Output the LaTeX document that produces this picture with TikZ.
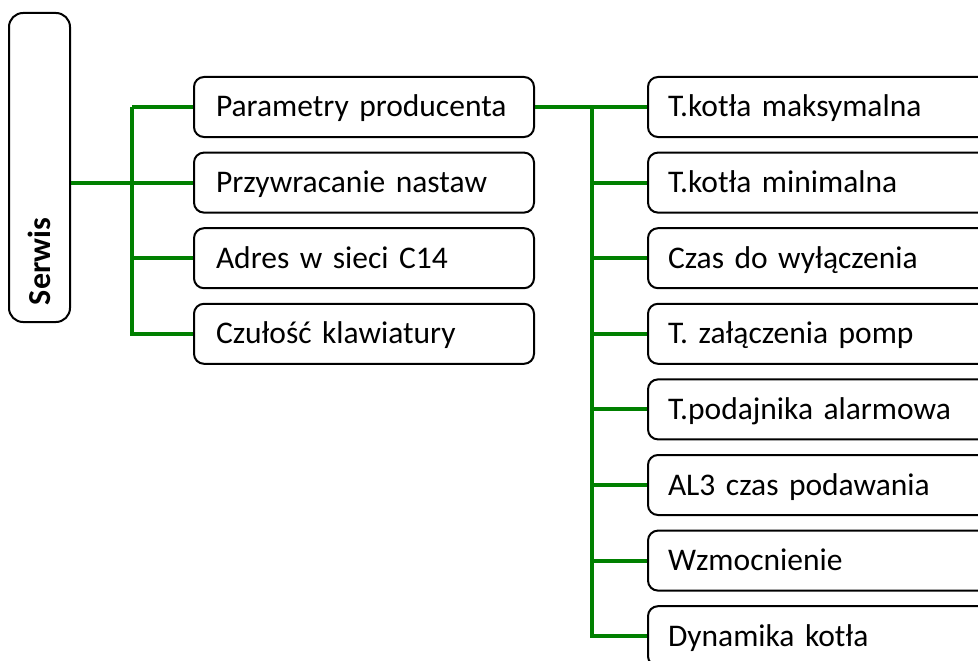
\documentclass[tikz,border=0pt]{standalone}
\usepackage{fontspec}
\setmainfont{Carlito}[WordSpace=0.8]
\definecolor{branch}{RGB}{0,128,0}
\tikzset{
  menubox/.style={draw=black, line width=2pt, rounded corners=10pt, fill=white,
    minimum height=60pt, inner xsep=22pt, text width=296pt, align=left,
    text height=20pt, text depth=0pt,
    font=\fontsize{31.5}{36}\selectfont},
  subbox/.style={menubox, inner xsep=20pt, text width=304pt},
  rootbox/.style={draw=black, line width=2pt, rounded corners=14pt, rotate=90,
    minimum height=61pt, inner xsep=17pt, text width=275pt, align=left,
    font=\fontsize{32}{36}\selectfont\bfseries},
  link/.style={draw=branch, line width=4pt}
}
\begin{document}
\begin{tikzpicture}[x=1pt,y=-1pt]
  \useasboundingbox (0,0) rectangle (978,661);
  \clip (0,0) rectangle (978,661);
  % menu root
  \node[rootbox] (serwis) at (39.5,167.5) {Serwis};
  % first level
  \node[menubox] (parametry) at (364,107) {Parametry producenta};
  \node[menubox] (przywracanie) at (364,182.6) {Przywracanie nastaw};
  \node[menubox] (adres) at (364,258.2) {Adres w sieci C14};
  \node[menubox] (czulosc) at (364,333.8) {Czułość klawiatury};
  % second level
  \node[subbox] (tmax) at (820,107) {T.kotła maksymalna};
  \node[subbox] (tmin) at (820,182.6) {T.kotła minimalna};
  \node[subbox] (czas) at (820,258.2) {Czas do wyłączenia};
  \node[subbox] (pompy) at (820,333.8) {T. załączenia pomp};
  \node[subbox] (podajnik) at (820,409.4) {T.podajnika alarmowa};
  \node[subbox] (al3) at (820,485) {AL3 czas podawania};
  \node[subbox] (wzmoc) at (820,560.6) {Wzmocnienie};
  \node[subbox] (dynamika) at (820,636.2) {Dynamika kotła};
  \coordinate (j1) at (132,107);
  \coordinate (j2) at (592,107);
  \begin{scope}[link]
    \draw (serwis.south |- przywracanie) -- (przywracanie.west);
    \foreach \n in {parametry,przywracanie,adres,czulosc}
      \draw (j1) |- (\n.west);
    \draw (parametry.east) -- (j2);
    \foreach \n in {tmax,tmin,czas,pompy,podajnik,al3,wzmoc,dynamika}
      \draw (j2) |- (\n.west);
  \end{scope}
\end{tikzpicture}
\end{document}
